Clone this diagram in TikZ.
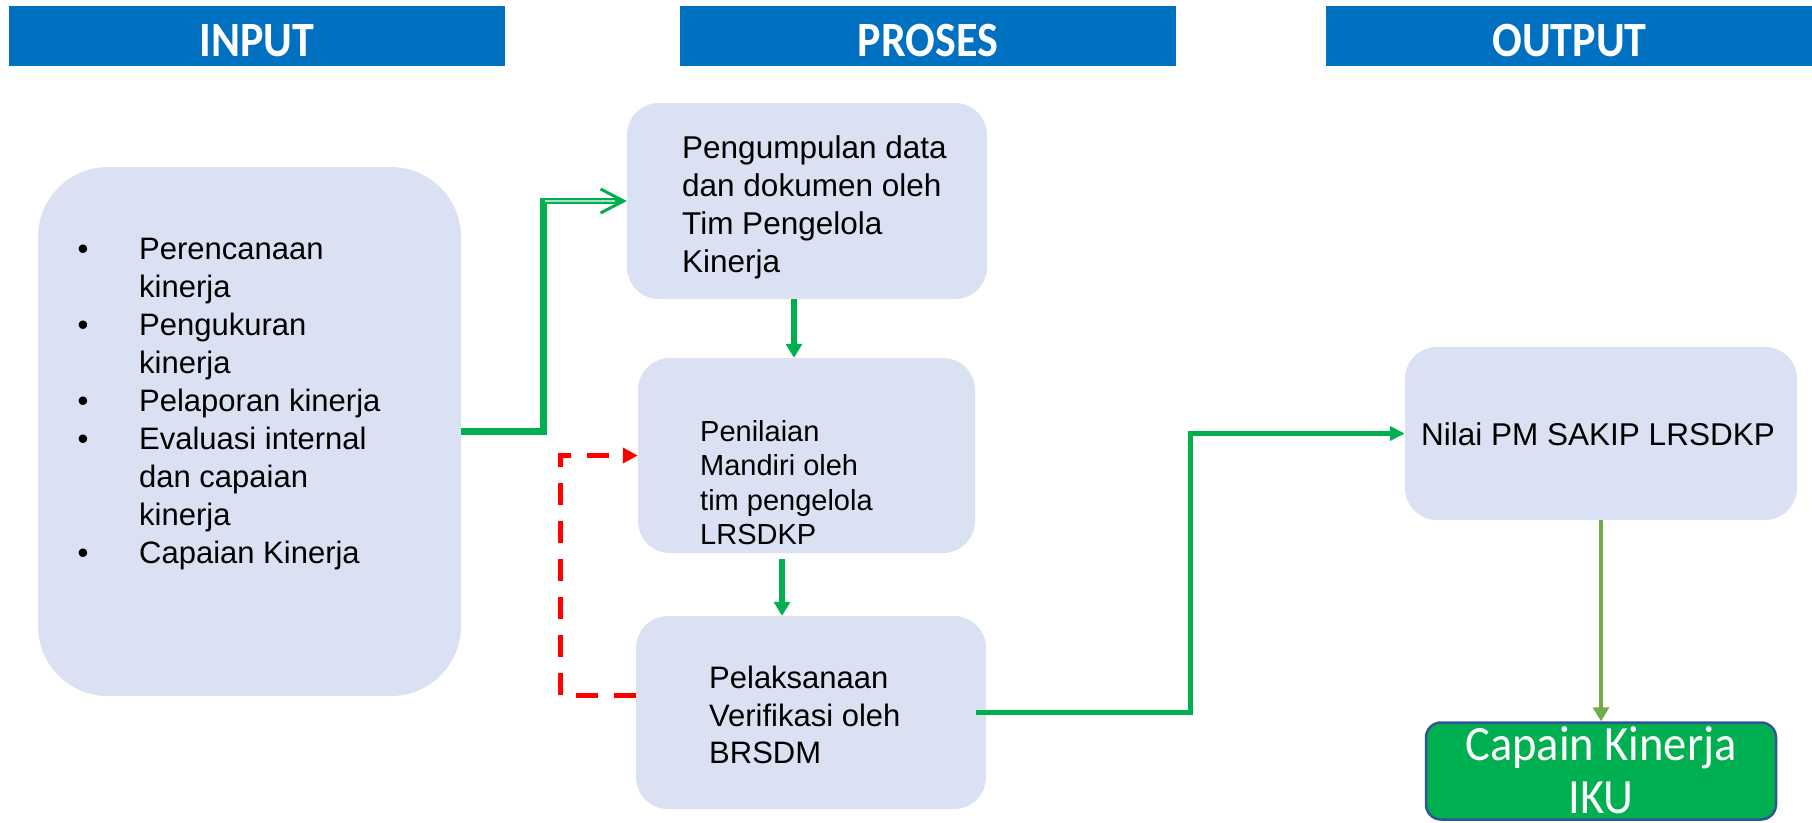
\documentclass[tikz,border=0pt]{standalone}
\usepackage{fontspec}
\setmainfont{Liberation Sans}
\newfontfamily\carlito{Carlito}
\usetikzlibrary{arrows.meta}
\definecolor{hdrblue}{HTML}{0070C0}
\definecolor{boxfill}{HTML}{DAE1F2}
\definecolor{gline}{HTML}{00B050}
\definecolor{oline}{HTML}{70AD47}
\definecolor{ikuborder}{HTML}{2F5597}
\definecolor{redline}{HTML}{FF0000}
\begin{document}
\begin{tikzpicture}[x=1pt,y=-1pt,
  hdrbar/.style={fill=hdrblue, draw=none, inner sep=0pt},
  hdrtext/.style={text=white, inner sep=0pt, anchor=base, font=\carlito\bfseries\fontsize{44}{50}\selectfont},
  pbox/.style={fill=boxfill, draw=none, inner sep=0pt},
  txt/.style={inner sep=0pt, anchor=base west},
  garrow/.style={draw=gline, line width=6pt, -{Triangle[length=14pt,width=16pt]}},
]
\useasboundingbox (0,0) rectangle (1812,822);

% headers
\node[hdrbar, minimum width=496pt, minimum height=60pt] (hin) at (257,35.5) {};
\node[hdrbar, minimum width=496pt, minimum height=60pt] (hpr) at (928,35.5) {};
\node[hdrbar, minimum width=487pt, minimum height=60pt] (hout) at (1569.5,35.5) {};
\node[hdrtext] (thin) at (257,56) {\scalebox{1}[1.12]{INPUT}};
\node[hdrtext] (thpr) at (928,56) {\scalebox{1}[1.12]{PROSES}};
\node[hdrtext] (thout) at (1569.5,56) {\scalebox{1}[1.12]{OUTPUT}};

% boxes
\node[pbox, minimum width=423pt, minimum height=529pt, rounded corners=70pt] (in) at (249.5,431.5) {};
\node[pbox, minimum width=360pt, minimum height=196pt, rounded corners=32pt] (b1) at (807,201) {};
\node[pbox, minimum width=337pt, minimum height=195pt, rounded corners=32pt] (b2) at (806.5,455.5) {};
\node[pbox, minimum width=350pt, minimum height=193pt, rounded corners=32pt] (b3) at (811,712.5) {};
\node[pbox, minimum width=392pt, minimum height=173pt, rounded corners=32pt] (b4) at (1601,433.5) {};
\node[fill=gline, draw=ikuborder, line width=2.5pt, inner sep=0pt, minimum width=350pt, minimum height=97pt, rounded corners=15pt] (b5) at (1601,771) {};

% texts
\node[txt, font=\fontsize{31}{38.1}\selectfont] (tin) at (77.5,259)
  {\vtop{%
   \hbox{\hbox to 61.5pt{•\hfil}Perencanaan}
   \hbox{\hbox to 61.5pt{\hfil}kinerja}
   \hbox{\hbox to 61.5pt{•\hfil}Pengukuran}
   \hbox{\hbox to 61.5pt{\hfil}kinerja}
   \hbox{\hbox to 61.5pt{•\hfil}Pelaporan kinerja}
   \hbox{\hbox to 61.5pt{•\hfil}Evaluasi internal}
   \hbox{\hbox to 61.5pt{\hfil}dan capaian}
   \hbox{\hbox to 61.5pt{\hfil}kinerja}
   \hbox{\hbox to 61.5pt{•\hfil}Capaian Kinerja}}};
\node[txt, font=\fontsize{31.5}{38}\selectfont] (tb1) at (682,158)
  {\vtop{\hbox{Pengumpulan data}\hbox{dan dokumen oleh}\hbox{Tim Pengelola}\hbox{Kinerja}}};
\node[txt, font=\fontsize{29}{34.5}\selectfont] (tb2) at (700,441)
  {\vtop{\hbox{Penilaian}\hbox{Mandiri oleh}\hbox{tim pengelola}\hbox{LRSDKP}}};
\node[txt, font=\fontsize{31}{37.7}\selectfont] (tb3) at (709,688.5)
  {\vtop{\hbox{Pelaksanaan}\hbox{Verifikasi oleh}\hbox{BRSDM}}};
\node[txt, font=\fontsize{31.5}{38}\selectfont] (tb4) at (1421,445) {Nilai PM SAKIP LRSDKP};
\node[txt, anchor=base, text=white, font=\carlito\fontsize{46.5}{53}\selectfont] (tb5) at (1601,760)
  {\vtop{\hbox to 0pt{\hss\scalebox{1}[1.06]{Capain Kinerja}\hss}\hbox to 0pt{\hss\scalebox{1}[1.06]{IKU}\hss}}};

% connectors
\coordinate (c1) at (543.5,431.5);
\coordinate (c2) at (1190,713);
\coordinate (rc) at (560,455.5);
\draw[draw=gline, line width=7pt] (in.east) -- (c1) -- (c1 |- b1.west);
\draw[draw=gline, line width=6pt, -{Straight Barb[length=23pt,width=24pt,line width=3pt]}]
  ([xshift=-3.5pt]c1 |- b1.west) -- (b1.west);
\draw[draw=gline!35!white, line width=1.2pt] ([xshift=1pt]c1 |- b1.west) -- ([xshift=-12pt]b1.west);

\draw[garrow] ([xshift=-13pt]b1.south) -- ([xshift=-13pt]b1.south |- b2.north);
\draw[garrow] ([xshift=-24.5pt,yshift=-6pt]b2.south) -- ([xshift=-24.5pt]b2.south |- b3.north);

\draw[draw=gline, line width=5pt, -{Triangle[length=15pt,width=14pt]}]
  ([xshift=-10pt]b3.east) -| (c2 |- b4.west) -- (b4.west);

\draw[draw=redline, line width=5pt, dash pattern=on 22pt off 16pt, -{Triangle[length=15pt,width=15pt]}]
  ([yshift=17.5pt]b3.west) -| (rc) -- (b2.west);

\draw[draw=oline, line width=4pt, -{Triangle[length=14pt,width=16pt]}] (b4.south) -- (b5.north);
\end{tikzpicture}
\end{document}
